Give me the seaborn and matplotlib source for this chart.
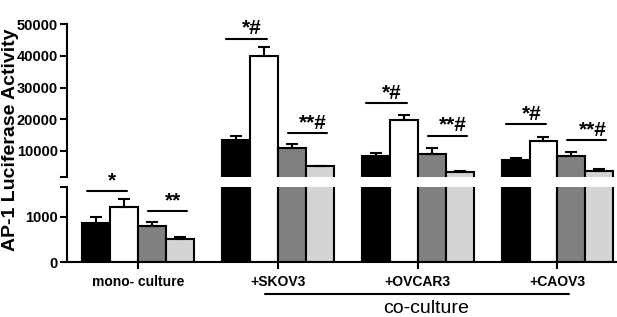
import matplotlib
matplotlib.use("Agg")
import pandas as pd
import matplotlib.pyplot as plt
import seaborn as sns

sns.set_style("ticks")
plt.rcParams['font.family'] = ['Liberation Sans', 'DejaVu Sans']
plt.rcParams.update({"text.color": "black", "axes.labelcolor": "black",
                     "xtick.color": "black", "ytick.color": "black",
                     "axes.edgecolor": "black"})

# values
groups = ["mono- culture", "+SKOV3", "+OVCAR3", "+CAOV3"]
conditions = ["cond1", "cond2", "cond3", "cond4"]
black_vals = [860, 13400, 8400, 7200]
white_vals = [1200, 40000, 19700, 13100]
dgray_vals = [790, 10900, 9100, 8400]
lgray_vals = [510, 5200, 3400, 3800]
black_err = [120, 1300, 1000, 600]
white_err = [180, 2800, 1500, 1300]
dgray_err = [100, 1300, 1800, 1300]
lgray_err = [45, 200, 400, 600]
colors = ["#000000", "#ffffff", "#808080", "#d4d4d4"]

# significance marks: (group, side, text, height)
sig_marks = [
    (0, "left", "*", 1555), (0, "right", "**", 1130),
    (1, "left", "*#", 45300), (1, "right", "**#", 15600),
    (2, "left", "*#", 25000), (2, "right", "**#", 14700),
    (3, "left", "*#", 18400), (3, "right", "**#", 13400),
]

all_vals = [black_vals, white_vals, dgray_vals, lgray_vals]
all_errs = [black_err, white_err, dgray_err, lgray_err]
rows = []
for c, vals in zip(conditions, all_vals):
    for g, v in zip(groups, vals):
        rows.append({"group": g, "condition": c, "value": v})
df = pd.DataFrame(rows)

top_lim = (1800, 50000)
bot_lim = (0, 1650)

fig = plt.figure(figsize=(6.17, 3.17), dpi=100)
ax_top = fig.add_axes([0.1086, 0.4416, 0.89, 0.4826])
ax_bot = fig.add_axes([0.1086, 0.1735, 0.89, 0.2366])

for ax, lim in [(ax_top, top_lim), (ax_bot, bot_lim)]:
    sns.barplot(data=df, x="group", y="value", hue="condition",
                hue_order=conditions, palette=colors, edgecolor="black",
                linewidth=1.5, width=0.8, errorbar=None, legend=False, ax=ax)
    bar_conts = list(ax.containers)
    for ci, cont in enumerate(bar_conts):
        for gi, bar in enumerate(cont):
            xc = bar.get_x() + bar.get_width() / 2
            h = bar.get_height()
            if not (lim[0] < h < lim[1]):
                continue
            ax.errorbar(xc, h, yerr=[[0], [all_errs[ci][gi]]], fmt="none",
                        ecolor="black", elinewidth=1.5, capsize=4, capthick=1.5)
    ax.set_xlim(-0.51, 3.42)
    ax.set_ylim(*lim)
    ax.set_xlabel("")
    ax.set_ylabel("")
    sns.despine(ax=ax)
    for s in ax.spines.values():
        s.set_linewidth(1.5)
    ax.tick_params(axis="both", width=1.5, length=5, direction="out", pad=1.5)

ax_top.set_yticks([1800, 10000, 20000, 30000, 40000, 50000])
ax_top.set_yticklabels(["", "10000", "20000", "30000", "40000", "50000"],
                       fontsize=10.5, fontweight="bold")
ax_top.spines["bottom"].set_visible(False)
ax_top.set_xticks([])

ax_bot.set_yticks([0, 1000, 1650])
ax_bot.set_yticklabels(["0", "1000", ""], fontsize=10.5, fontweight="bold")
ax_bot.set_xticks(range(len(groups)))
ax_bot.set_xticklabels(groups, fontsize=10, fontweight="bold")
ax_bot.tick_params(axis="x", pad=4)

# significance brackets
for gi, side, txt, yv in sig_marks:
    ax = ax_bot if gi == 0 else ax_top
    if side == "left":
        x0, x1 = gi - 0.37, gi - 0.08
    else:
        x0, x1 = gi + 0.07, gi + 0.35
    ax.plot([x0, x1], [yv, yv], color="black", lw=1.5, clip_on=False)
    ax.annotate(txt, xy=((x0 + x1) / 2 + 0.04, yv), xytext=(0, 0.5),
                textcoords="offset points", ha="center", va="bottom",
                fontsize=15, fontweight="bold", annotation_clip=False)

# co-culture bracket
tr = ax_bot.get_xaxis_transform()
ax_bot.plot([0.91, 3.08], [-0.43, -0.43], color="black", lw=1.5,
            transform=tr, clip_on=False)
ax_bot.text(2.06, -0.62, "co-culture", transform=tr, ha="center",
            va="center", fontsize=14)

fig.text(0.017, 0.56, "AP-1 Luciferase Activity", rotation=90,
         ha="center", va="center", fontsize=14, fontweight="bold")

fig.savefig("out.png", dpi=100)
